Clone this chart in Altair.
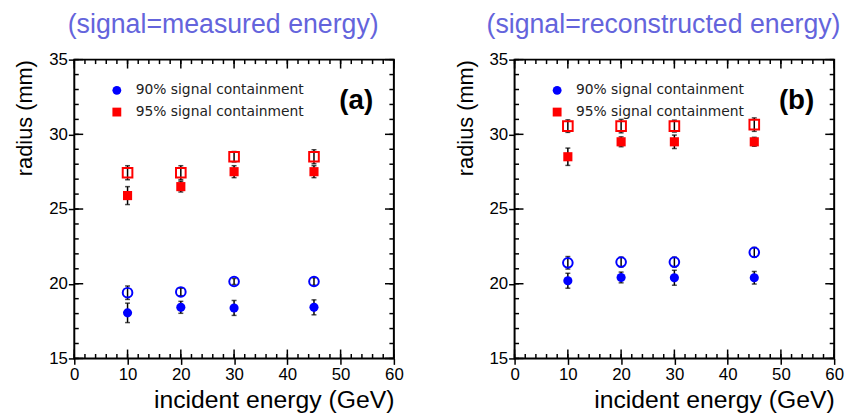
import altair as alt
import pandas as pd

# ---------------- data ----------------
energy = [10, 20, 30, 45]
series_names = ["90% signal containment", "95% signal containment"]

# panel (a): signal = measured energy
a_90_filled = [18.05, 18.42, 18.38, 18.42]
a_90_filled_err = [0.65, 0.4, 0.5, 0.5]
a_90_open = [19.4, 19.45, 20.15, 20.15]
a_90_open_err = [0.45, 0.25, 0.2, 0.25]
a_95_filled = [25.9, 26.5, 27.5, 27.5]
a_95_filled_err = [0.6, 0.36, 0.4, 0.4]
a_95_open = [27.43, 27.43, 28.5, 28.5]
a_95_open_err = [0.47, 0.47, 0.35, 0.47]

# panel (b): signal = reconstructed energy
b_90_filled = [20.2, 20.42, 20.4, 20.4]
b_90_filled_err = [0.5, 0.36, 0.5, 0.42]
b_90_open = [21.4, 21.45, 21.45, 22.1]
b_90_open_err = [0.42, 0.33, 0.33, 0.33]
b_95_filled = [28.5, 29.5, 29.5, 29.5]
b_95_filled_err = [0.58, 0.33, 0.45, 0.3]
b_95_open = [30.55, 30.55, 30.55, 30.65]
b_95_open_err = [0.42, 0.45, 0.4, 0.45]

panel_titles = ["(signal=measured energy)", "(signal=reconstructed energy)"]
panel_labels = ["(a)", "(b)"]

x_major = [0, 10, 20, 30, 40, 50, 60]
x_minor = list(range(0, 61, 2))
y_major = [15, 20, 25, 30, 35]
y_minor = list(range(15, 36, 1))

# ---------------- styling ----------------
FONT = "Liberation Sans, Arial, Helvetica, sans-serif"
W, H = 323, 302
BLUE, RED = "#0000ff", "#ff0000"
TITLE_COLOR = "#6464dc"
MAJ, MIN = 9, 4.5
VLINE = "M0,-1L0,1"
HLINE = "M-1,0L1,0"


def make_df(f90, e90, o90, oe90, f95, e95, o95, oe95):
    rows = []
    for vals, errs, ser, sty in [
        (f90, e90, series_names[0], "filled"),
        (o90, oe90, series_names[0], "open"),
        (f95, e95, series_names[1], "filled"),
        (o95, oe95, series_names[1], "open"),
    ]:
        for E, v, e in zip(energy, vals, errs):
            rows.append({"E": E, "v": v, "lo": v - e, "hi": v + e,
                         "series": ser, "style": sty})
    return pd.DataFrame(rows)


xs = alt.Scale(domain=[0, 60], nice=False, zero=False)
ys = alt.Scale(domain=[15, 35], nice=False, zero=False)

main_x = alt.Axis(values=x_major, title="incident energy (GeV)", titleAnchor="end",
                  ticks=True, tickSize=6, tickWidth=1.5, tickColor="black",
                  domain=False, grid=False, labelFontSize=17,
                  labelPadding=2, titleFontSize=25, titlePadding=6,
                  titleFontWeight="normal", labelFont=FONT, titleFont=FONT,
                  labelColor="black", titleColor="black", format="d",
                  labelFlush=False, labelOverlap=False)
main_y = alt.Axis(values=y_major, title="radius (mm)", titleAnchor="end",
                  ticks=True, tickSize=6, tickWidth=1.5, tickColor="black",
                  domain=False, grid=False, labelFontSize=17,
                  labelPadding=1, titleFontSize=22, titlePadding=12,
                  titleFontWeight="normal", labelFont=FONT, titleFont=FONT,
                  labelColor="black", titleColor="black", format="d",
                  labelFlush=False, labelOverlap=False)


def X(field):
    return alt.X(field, scale=xs, axis=None)


def Y(field):
    return alt.Y(field, scale=ys, axis=None)


def x_ticks(values, ycenter, length):
    return alt.Chart(pd.DataFrame({"t": values})).mark_point(
        shape=VLINE, size=length * length, filled=False, strokeWidth=1.5,
        color="black", opacity=1).encode(
        x=X("t:Q"), y=alt.value(ycenter))


def y_ticks(values, xcenter, length):
    return alt.Chart(pd.DataFrame({"t": values})).mark_point(
        shape=HLINE, size=length * length, filled=False, strokeWidth=1.5,
        color="black", opacity=1).encode(
        y=Y("t:Q"), x=alt.value(xcenter))


def panel(df, title, label):
    base = alt.Chart(df)
    legend = alt.Legend(title=None, orient="none", legendX=36, legendY=24,
                        labelFont="DejaVu Sans", labelFontSize=14,
                        labelColor="#222222", symbolSize=80, rowPadding=8,
                        labelOffset=12, symbolStrokeWidth=0, labelLimit=400)
    cscale = alt.Scale(domain=series_names, range=[BLUE, RED])
    sscale = alt.Scale(domain=series_names, range=["circle", "square"])

    rules = base.mark_rule(color="black", strokeWidth=1.5).encode(
        x=alt.X("E:Q", scale=xs, axis=main_x),
        y=alt.Y("lo:Q", scale=ys, axis=main_y),
        y2="hi:Q",
    )
    cap_hi = base.mark_tick(orient="horizontal", size=5, thickness=1.5, color="black").encode(
        x=X("E:Q"), y=Y("hi:Q"),
    )
    cap_lo = base.mark_tick(orient="horizontal", size=5, thickness=1.5, color="black").encode(
        x=X("E:Q"), y=Y("lo:Q"),
    )
    filled = base.transform_filter(alt.datum.style == "filled").mark_point(
        filled=True, size=85, opacity=1).encode(
        x=X("E:Q"), y=Y("v:Q"),
        color=alt.Color("series:N", scale=cscale, legend=legend),
        shape=alt.Shape("series:N", scale=sscale, legend=legend),
    )
    opened = base.transform_filter(alt.datum.style == "open").mark_point(
        filled=False, size=95, strokeWidth=2, opacity=1).encode(
        x=X("E:Q"), y=Y("v:Q"),
        stroke=alt.Stroke("series:N", scale=alt.Scale(domain=series_names, range=[BLUE, RED]), legend=None),
        shape=alt.Shape("series:N", scale=sscale, legend=legend),
    )
    text = alt.Chart(pd.DataFrame({"label": [label]})).mark_text(
        font=FONT, fontSize=28, fontWeight="bold", color="black",
        align="center", baseline="middle").encode(
        text="label:N", x=alt.value(285), y=alt.value(42))

    frame_ticks = [
        x_ticks(x_major, H - MAJ / 2, MAJ), x_ticks(x_minor, H - MIN / 2, MIN),
        x_ticks(x_major, MAJ / 2, MAJ), x_ticks(x_minor, MIN / 2, MIN),
        y_ticks(y_major, MAJ / 2, MAJ), y_ticks(y_minor, MIN / 2, MIN),
        y_ticks(y_major, W - MAJ / 2, MAJ), y_ticks(y_minor, W - MIN / 2, MIN),
    ]

    return alt.layer(rules, cap_hi, cap_lo, opened, filled, *frame_ticks, text).resolve_axis(
        x="independent", y="independent"
    ).properties(
        width=W, height=H,
        title=alt.TitleParams(title, fontSize=27, font=FONT, color=TITLE_COLOR,
                              fontWeight="normal", anchor="middle", frame="group",
                              dx=-11, offset=12),
    )


df_a = make_df(a_90_filled, a_90_filled_err, a_90_open, a_90_open_err,
               a_95_filled, a_95_filled_err, a_95_open, a_95_open_err)
df_b = make_df(b_90_filled, b_90_filled_err, b_90_open, b_90_open_err,
               b_95_filled, b_95_filled_err, b_95_open, b_95_open_err)

chart = alt.hconcat(
    panel(df_a, panel_titles[0], panel_labels[0]),
    panel(df_b, panel_titles[1], panel_labels[1]),
    spacing=49,
).resolve_scale(
    color="independent", shape="independent", stroke="independent"
).properties(
    padding={"left": 5, "top": 0, "right": 5, "bottom": 0},
    background="white",
).configure_view(stroke="black", strokeWidth=2)

chart.save("out.html", embed_options={"renderer": "svg", "actions": False})
